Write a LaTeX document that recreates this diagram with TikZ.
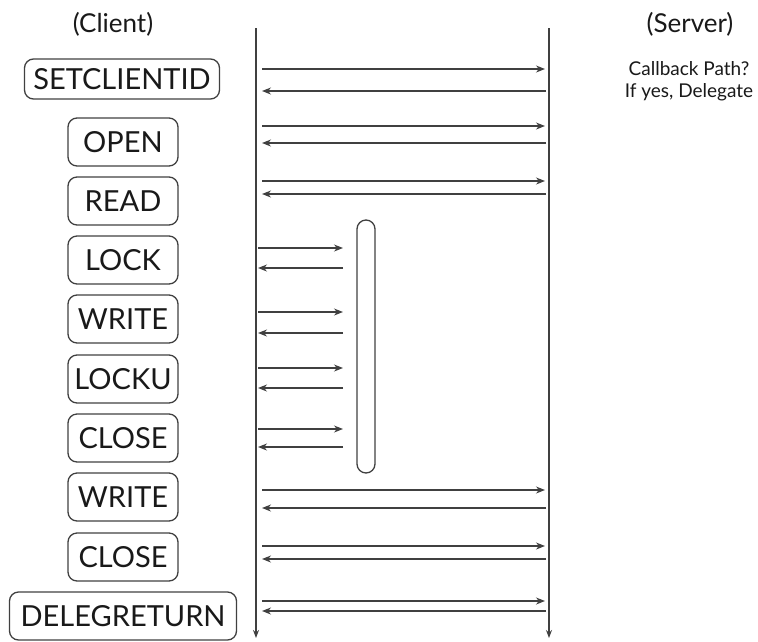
\documentclass[tikz,border=0pt]{standalone}
\usepackage{fontspec}
\setmainfont{Lato}
\usepackage{tikz}
\usetikzlibrary{arrows.meta,positioning}

\begin{document}
\begin{tikzpicture}[x=1pt,y=-1pt,
  op/.style={draw=black!75, line width=1.3pt, rounded corners=9pt, minimum width=110pt, minimum height=48pt, inner sep=0pt, font=\fontsize{29}{31}\selectfont, text=black!90},
  side/.style={font=\fontsize{26}{28}\selectfont, text=black!90},
  note/.style={font=\fontsize{19}{22}\selectfont, align=center, text=black!90},
  message/.style={-{Stealth[length=9pt,width=7pt]}, line width=1.3pt, black!75},
  lifeline/.style={-{Stealth[length=8pt,width=6pt]}, line width=1.4pt, black!75}
]
\useasboundingbox (0,0) rectangle (758,641);

% Headings
\node[side] (client) at (113,24) {(Client)};
\node[side] (server) at (690,24) {(Server)};
\node[note] (callback) at (689,81) {Callback Path?\\If yes, Delegate};

% Operations
\node[op, minimum width=195pt, minimum height=40pt] (setclientid) at (122,79) {SETCLIENTID};
\node[op] (open) at (123,142) {OPEN};
\node[op] (read) at (123,201) {READ};
\node[op] (lock) at (123,260) {LOCK};
\node[op] (write1) at (123,319) {WRITE};
\node[op] (locku) at (123,379) {LOCKU};
\node[op] (close1) at (123,438) {CLOSE};
\node[op] (write2) at (123,497) {WRITE};
\node[op] (close2) at (123,557) {CLOSE};
\node[op, minimum width=227pt] (delegreturn) at (123,616) {DELEGRETURN};

% Lifelines
\coordinate (ctop) at (256,28);
\coordinate (cbot) at (256,638);
\coordinate (stop) at (549,28);
\coordinate (sbot) at (549,638);
\draw[lifeline] (ctop) -- (cbot);
\draw[lifeline] (stop) -- (sbot);

% Local lock range
\node[draw=black!75, line width=1.3pt, rounded corners=9pt, minimum width=18pt, minimum height=253pt, inner sep=0pt] (lockpill) at (366,346.5) {};

% Messages to the server
\foreach \name/\ya/\yb in {setclientid/69/91, open/126/143, read/181/194, write2/490/508, close2/546/559, delegreturn/601/611} {
  \coordinate (\name-c1) at (262,\ya);
  \coordinate (\name-s1) at (545,\ya);
  \coordinate (\name-c2) at (262,\yb);
  \coordinate (\name-s2) at (546,\yb);
  \draw[message] (\name-c1) -- (\name-s1);
  \draw[message] (\name-s2) -- (\name-c2);
}

% Local messages
\foreach \name/\ya/\yb in {lock/248/268, write1/312/333, locku/368/388, close1/429/447} {
  \coordinate (\name-c1) at (258,\ya);
  \coordinate (\name-l1) at (343,\ya);
  \coordinate (\name-c2) at (258,\yb);
  \coordinate (\name-l2) at (343,\yb);
  \draw[message] (\name-c1) -- (\name-l1);
  \draw[message] (\name-l2) -- (\name-c2);
}

\end{tikzpicture}
\end{document}
